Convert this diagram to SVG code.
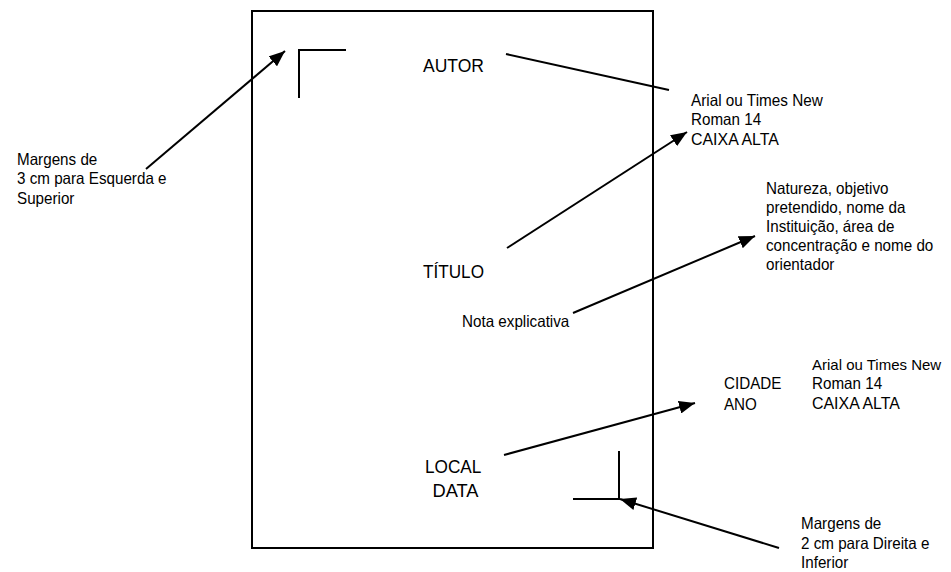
<svg xmlns="http://www.w3.org/2000/svg" width="951" height="572" viewBox="0 0 951 572">
<style>
text{font-family:"Liberation Sans",Arial,sans-serif;fill:#000}
.s{font-size:16.5px}
.t{font-size:15px}
.l{font-size:18px}
.ln{stroke:#000;stroke-width:2;fill:none}
.ar{stroke:#000;stroke-width:2;fill:none;marker-end:url(#ah)}
</style>
<defs>
<marker id="ah" markerUnits="userSpaceOnUse" markerWidth="17" markerHeight="13" refX="16" refY="6.5" orient="auto">
<path d="M0,0 L16,6.5 L0,13 z" fill="#000"/>
</marker>
</defs>
<rect width="951" height="572" fill="#fff"/>
<g id="page">
<rect x="252" y="11" width="401" height="537" class="ln"/>
</g>
<g id="margin-top-left">
<polyline points="299,98 299,50 346,50" class="ln"/>
</g>
<g id="margin-bottom-right">
<polyline points="619,451 619,499 573,499" class="ln"/>
</g>
<g id="autor"><text class="l" x="423" y="72" textLength="61" lengthAdjust="spacingAndGlyphs">AUTOR</text></g>
<g id="titulo"><text class="l" x="423" y="278" textLength="61" lengthAdjust="spacingAndGlyphs">TÍTULO</text></g>
<g id="nota"><text class="s" x="462" y="327" textLength="107.3" lengthAdjust="spacingAndGlyphs">Nota explicativa</text></g>
<g id="local-data">
<text class="l" x="425" y="473" textLength="56.4" lengthAdjust="spacingAndGlyphs">LOCAL</text>
<text class="l" x="432.5" y="497" textLength="46" lengthAdjust="spacingAndGlyphs">DATA</text>
</g>
<g id="cidade-ano">
<text class="s" x="724" y="389" textLength="57.4" lengthAdjust="spacingAndGlyphs">CIDADE</text>
<text class="s" x="724" y="410" textLength="32.9" lengthAdjust="spacingAndGlyphs">ANO</text>
</g>
<g id="note-margens-sup">
<text class="s" x="17" y="164.5" textLength="80.3" lengthAdjust="spacingAndGlyphs">Margens de</text>
<text class="s" x="17" y="184" textLength="149.5" lengthAdjust="spacingAndGlyphs">3 cm para Esquerda e</text>
<text class="s" x="17" y="203.5" textLength="57.4" lengthAdjust="spacingAndGlyphs">Superior</text>
</g>
<g id="note-fonte-1">
<text class="s" x="691" y="105.5" textLength="131.8" lengthAdjust="spacingAndGlyphs">Arial ou Times New</text>
<text class="s" x="691" y="125" textLength="70.1" lengthAdjust="spacingAndGlyphs">Roman 14</text>
<text class="s" x="691" y="144.5" textLength="87.9" lengthAdjust="spacingAndGlyphs">CAIXA ALTA</text>
</g>
<g id="note-natureza">
<text class="s" x="766" y="194" textLength="122.5" lengthAdjust="spacingAndGlyphs">Natureza, objetivo</text>
<text class="s" x="766" y="213" textLength="139.4" lengthAdjust="spacingAndGlyphs">pretendido, nome da</text>
<text class="s" x="766" y="232" textLength="128.4" lengthAdjust="spacingAndGlyphs">Instituição, área de</text>
<text class="s" x="766" y="251" textLength="167.3" lengthAdjust="spacingAndGlyphs">concentração e nome do</text>
<text class="s" x="766" y="270" textLength="68.4" lengthAdjust="spacingAndGlyphs">orientador</text>
</g>
<g id="note-fonte-2">
<text class="t" x="812" y="369.5">Arial ou Times New</text>
<text class="s" x="812" y="389" textLength="70.1" lengthAdjust="spacingAndGlyphs">Roman 14</text>
<text class="s" x="812" y="409" textLength="87.9" lengthAdjust="spacingAndGlyphs">CAIXA ALTA</text>
</g>
<g id="note-margens-inf">
<text class="s" x="801" y="529" textLength="80.3" lengthAdjust="spacingAndGlyphs">Margens de</text>
<text class="s" x="801" y="548.5" textLength="128.4" lengthAdjust="spacingAndGlyphs">2 cm para Direita e</text>
<text class="s" x="801" y="568" textLength="47.3" lengthAdjust="spacingAndGlyphs">Inferior</text>
</g>
<g id="connectors">
<line x1="146" y1="169" x2="285" y2="51" class="ar"/>
<line x1="506" y1="54" x2="669" y2="90" class="ln"/>
<line x1="507" y1="248" x2="687" y2="132" class="ar"/>
<line x1="573" y1="313" x2="755" y2="236" class="ar"/>
<line x1="504" y1="455" x2="695" y2="403" class="ar"/>
<line x1="779" y1="548" x2="620" y2="499" class="ar"/>
</g>
</svg>
